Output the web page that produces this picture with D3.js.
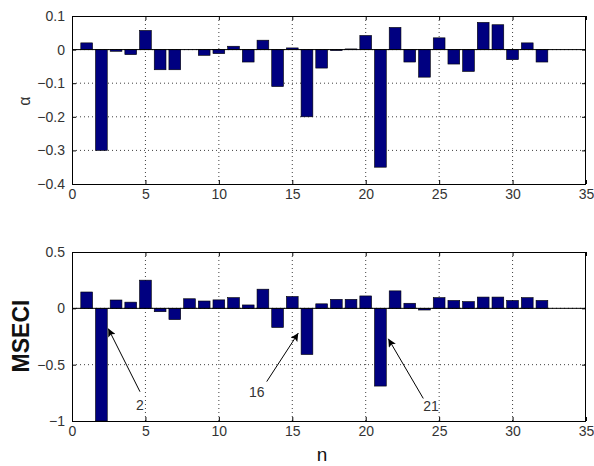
<!DOCTYPE html>
<html>
<head>
<meta charset="utf-8">
<script src="https://cdn.jsdelivr.net/npm/d3@7"></script>
<style>
  body { margin: 0; background: #fff; }
  svg { display: block; font-family: "Liberation Sans", Arial, sans-serif; }
</style>
</head>
<body>
<svg id="chart" width="594" height="466"></svg>
<script>
// ---- data ----
const nValues = d3.range(1, 33);
const alphaValues = [0.02, -0.30, -0.005, -0.015, 0.057, -0.06, -0.06, 0, -0.017, -0.012,
  0.01, -0.037, 0.028, -0.11, 0.005, -0.20, -0.055, -0.003, 0.002, 0.042,
  -0.35, 0.066, -0.037, -0.082, 0.035, -0.043, -0.065, 0.081, 0.074, -0.03,
  0.02, -0.037];
const mseciValues = [0.145, -1.0, 0.074, 0.055, 0.25, -0.03, -0.10, 0.085, 0.065, 0.075,
  0.095, 0.03, 0.17, -0.17, 0.105, -0.41, 0.04, 0.08, 0.08, 0.11,
  -0.69, 0.155, 0.045, -0.015, 0.095, 0.07, 0.06, 0.10, 0.10, 0.07,
  0.095, 0.07];
const xTicks = [0, 5, 10, 15, 20, 25, 30, 35];
const alphaTicks = [0.1, 0, -0.1, -0.2, -0.3, -0.4];
const mseciTicks = [0.5, 0, -0.5, -1];
const annotLabels = ["2", "16", "21"];
const annotHead = [[2.47, -0.18], [15.41, -0.22], [21.54, -0.27]];
const annotTail = [[4.63, -0.74], [13.26, -0.65], [23.92, -0.80]];
const annotText = [[4.63, -0.86], [12.58, -0.74], [24.45, -0.87]];

// ---- drawing ----
const svg = d3.select("#chart");
const left = 72, right = 586;
const x = d3.scaleLinear().domain([0, 35]).range([left, right]);
const barW = x(0.8) - x(0);

svg.append("defs").append("marker")
  .attr("id", "arrowhead").attr("viewBox", "0 0 10 10")
  .attr("refX", 10).attr("refY", 5)
  .attr("markerWidth", 12).attr("markerHeight", 8)
  .attr("markerUnits", "userSpaceOnUse")
  .attr("orient", "auto")
  .append("path").attr("d", "M0,0 L10,5 L0,10 L2,5 Z").attr("fill", "#000");

function panel(id, top, bottom, domain, ticks, values, fmt) {
  const y = d3.scaleLinear().domain(domain).range([bottom, top]);
  const g = svg.append("g");
  g.append("clipPath").attr("id", "clip" + id)
    .append("rect").attr("x", left).attr("y", top)
    .attr("width", right - left).attr("height", bottom - top);

  // grid
  const grid = g.append("g").attr("stroke", "#000").attr("stroke-width", 1)
    .attr("stroke-dasharray", "1,3").attr("opacity", 0.75);
  xTicks.slice(1, -1).forEach(t => {
    grid.append("line").attr("x1", x(t)).attr("x2", x(t)).attr("y1", top).attr("y2", bottom);
  });
  ticks.filter(t => t !== domain[0] && t !== domain[1]).forEach(t => {
    grid.append("line").attr("x1", left).attr("x2", right).attr("y1", y(t)).attr("y2", y(t));
  });

  // bars
  g.append("g").attr("clip-path", `url(#clip${id})`)
    .selectAll("rect").data(values).join("rect")
    .attr("x", (d, i) => x(nValues[i]) - barW / 2)
    .attr("width", barW)
    .attr("y", d => y(Math.max(0, d)))
    .attr("height", d => Math.abs(y(d) - y(0)))
    .attr("fill", "#000080")
    .attr("stroke", "#000")
    .attr("stroke-width", 0.6);

  // baseline
  g.append("line").attr("x1", left).attr("x2", right)
    .attr("y1", y(0)).attr("y2", y(0)).attr("stroke", "#000").attr("stroke-width", 1);

  // axes
  g.append("g").attr("transform", `translate(0,${bottom})`)
    .call(d3.axisBottom(x).tickValues(xTicks).tickSizeInner(-4).tickSizeOuter(0).tickPadding(5));
  g.append("g").attr("transform", `translate(${left},0)`)
    .call(d3.axisLeft(y).tickValues(ticks).tickFormat(fmt).tickSizeInner(-4).tickSizeOuter(0).tickPadding(7));
  g.append("g").attr("transform", `translate(0,${top})`)
    .call(d3.axisTop(x).tickValues(xTicks).tickFormat("").tickSizeInner(-4).tickSizeOuter(0));
  g.append("g").attr("transform", `translate(${right},0)`)
    .call(d3.axisRight(y).tickValues(ticks).tickFormat("").tickSizeInner(-4).tickSizeOuter(0));
  g.selectAll(".domain").remove();
  g.selectAll(".tick line").attr("stroke", "#000");
  g.selectAll(".tick text").attr("font-size", 14).attr("fill", "#333")
    .attr("font-family", "Liberation Sans, Arial, sans-serif");

  g.append("rect").attr("x", left + 0.5).attr("y", top + 0.5)
    .attr("width", right - left - 1).attr("height", bottom - top)
    .attr("fill", "none").attr("stroke", "#000").attr("stroke-width", 1);
  return y;
}

const yA = panel("a", 16, 184, [-0.4, 0.1], alphaTicks, alphaValues, d => d3.format("")(d));
const yM = panel("m", 252, 421, [-1, 0.5], mseciTicks, mseciValues, d => d3.format("")(d));

// axis labels
svg.append("text").attr("transform", "translate(30,101) rotate(-90)")
  .attr("text-anchor", "middle").attr("font-size", 16).attr("fill", "#333")
  .text("α");
svg.append("text").attr("transform", "translate(29,336) rotate(-90)")
  .attr("text-anchor", "middle").attr("font-size", 23).attr("font-weight", "bold")
  .attr("fill", "#111").text("MSECI");
svg.append("text").attr("x", 322).attr("y", 461)
  .attr("text-anchor", "middle").attr("font-size", 19).attr("fill", "#111")
  .text("n");

// annotations
annotLabels.forEach((lab, i) => {
  svg.append("line")
    .attr("x1", x(annotTail[i][0])).attr("y1", yM(annotTail[i][1]))
    .attr("x2", x(annotHead[i][0])).attr("y2", yM(annotHead[i][1]))
    .attr("stroke", "#000").attr("stroke-width", 1)
    .attr("marker-end", "url(#arrowhead)");
  svg.append("text")
    .attr("x", x(annotText[i][0])).attr("y", yM(annotText[i][1]))
    .attr("dy", "0.35em").attr("text-anchor", "middle")
    .attr("font-size", 14).attr("fill", "#333").text(lab);
});
</script>
</body>
</html>
